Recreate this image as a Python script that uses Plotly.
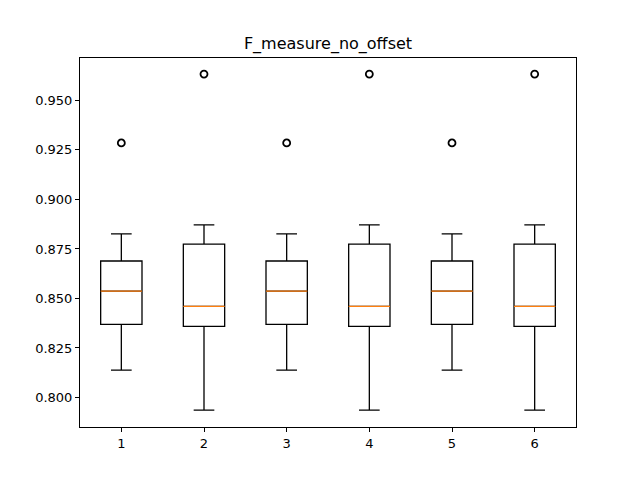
import plotly.graph_objects as go

positions = [1, 2, 3, 4, 5, 6]
q1 = [0.8369, 0.8359, 0.8369, 0.8359, 0.8369, 0.8359]
median = [0.8537, 0.8460, 0.8537, 0.8460, 0.8537, 0.8460]
q3 = [0.8689, 0.8774, 0.8689, 0.8774, 0.8689, 0.8774]
lower = [0.8138, 0.7936, 0.8138, 0.7936, 0.8138, 0.7936]
upper = [0.8826, 0.8871, 0.8826, 0.8871, 0.8826, 0.8871]
outliers = [0.9285, 0.9633, 0.9285, 0.9633, 0.9285, 0.9633]

fig = go.Figure()
fig.add_trace(go.Box(
    x=positions, q1=q1, median=median, q3=q3,
    lowerfence=lower, upperfence=upper,
    width=0.5, whiskerwidth=0.5, boxpoints=False,
    fillcolor="rgba(0,0,0,0)", line=dict(color="black", width=1.3),
    showlegend=False, hoverinfo="skip",
))
for p, m in zip(positions, median):
    fig.add_trace(go.Scatter(
        x=[p - 0.25, p + 0.25], y=[m, m], mode="lines",
        line=dict(color="#ff7f0e", width=1.3), showlegend=False,
    ))
fig.add_trace(go.Scatter(
    x=positions, y=outliers, mode="markers",
    marker=dict(symbol="circle-open", size=7, color="black", line=dict(width=1.8)),
    showlegend=False,
))

axis = dict(showgrid=False, zeroline=False, showline=True, mirror=True,
            linecolor="black", linewidth=1, ticks="outside", ticklen=4,
            tickcolor="black", tickfont=dict(size=13, color="black"))
fig.update_layout(
    width=640, height=480,
    margin=dict(l=72, r=72, t=50, b=61),
    paper_bgcolor="white", plot_bgcolor="white",
    font=dict(family="DejaVu Sans", color="black"),
    title=dict(text="F_measure_no_offset", x=0.5, xanchor="center",
               xref="paper",
               y=1 - 35 / 480, yanchor="middle", font=dict(size=16)),
    xaxis=dict(axis, range=[0.5, 6.5], tickvals=positions),
    yaxis=dict(axis, range=[0.7851, 0.9714],
               tickvals=[0.8, 0.825, 0.85, 0.875, 0.9, 0.925, 0.95],
               tickformat=".3f"),
)
fig.write_html("out.html")
